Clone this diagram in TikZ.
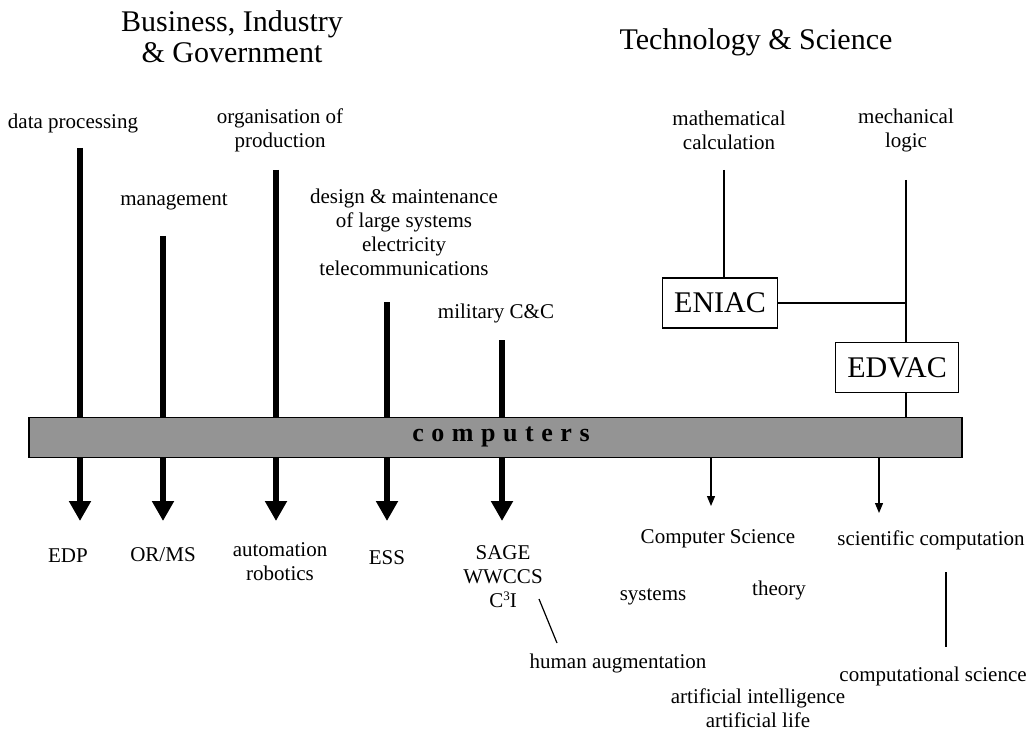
\documentclass[tikz,border=0pt]{standalone}
\usepackage{fontspec}
\setmainfont{Liberation Serif}
\usetikzlibrary{arrows.meta}

\begin{document}
\begin{tikzpicture}
		[
			x=0.5pt, y=-0.5pt,
			% Text styles.
			lbl/.style={inner sep=0pt, align=center, font=\fontsize{10.5}{12}\selectfont},
			headline/.style={inner sep=0pt, align=center, font=\fontsize{15}{15.5}\selectfont},
			machine/.style={draw, line width=0.6pt, inner xsep=6pt, minimum height=25pt, font=\fontsize{15}{15}\selectfont},
			% And the arrows.
			fat/.style={line width=3pt, -{Triangle[width=10.5pt,length=10pt]}},
			thin/.style={line width=0.6pt},
			thinarrow/.style={line width=0.6pt, -{Triangle[width=4pt,length=5pt]}}
		]
			\useasboundingbox (0,0) rectangle (1036,732);

			% Headings.
			\node[headline] (bus) at (232,37) {Business, Industry\\\& Government};
			\node[headline] (tech) at (756,42) {Technology \& Science};

			% Sources on the left.
			\node[lbl] (dp) at (73,123) {data processing};
			\node[lbl] (mgmt) at (174,202) {management};
			\node[lbl] (org) at (280,130) {organisation of\\production};
			\node[lbl] (design) at (404,232) {design \& maintenance\\of large systems\\electricity\\telecommunications};
			\node[lbl] (mil) at (496,313) {military C\&C};

			% Results on the left.
			\node[lbl] (edp) at (68,556) {EDP};
			\node[lbl] (orms) at (163,555) {OR/MS};
			\node[lbl] (auto) at (280,562) {automation\\robotics};
			\node[lbl] (ess) at (387,558) {ESS};
			\node[lbl] (sage) at (503,577) {SAGE\\WWCCS\\C\raisebox{3.6pt}{\fontsize{6.5}{7}\selectfont 3}I};
			\node[lbl] (human) at (618,663) {human augmentation};

			% Thick arrows through the bar.
			\foreach \x/\y/\name in {80/148/edp, 163/236/orms, 276/170/auto, 387/302/ess, 502/340/sage}
			{
				\coordinate (\name top) at (\x,\y);
				\coordinate (\name tip) at (\x,521);
				\draw[fat] (\name top) -- (\name tip);
			}

			% Technology side.
			\node[lbl] (math) at (729,130) {mathematical\\calculation};
			\node[lbl] (mech) at (906,130) {mechanical\\logic};
			\node[machine] (eniac) at (720,303) {ENIAC};
			\node[machine] (edvac) at (897,367.5) {EDVAC};
			\coordinate (mathfoot) at (724,170);
			\coordinate (mechfoot) at (906,180);

			% The bar.
			\node[draw, line width=0.6pt, fill=black!42, minimum width=466.5pt, minimum height=20pt, inner sep=0pt] (comp) at (495.5,437.5) {};
			\node[inner sep=0pt, font=\fontsize{13}{13}\bfseries\addfontfeature{LetterSpace=29}] (complbl) at (501,437) {computers};

			\draw[thin] (mathfoot) -- (mathfoot |- eniac.north);
			\draw[thin] (mechfoot) -- (mechfoot |- edvac.north);
			\draw[thin] (eniac.east) -- (mechfoot |- eniac.east);
			\draw[thin] (mechfoot |- edvac.south) -- (mechfoot |- comp.north);

			% Results on the right.
			\node[lbl] (cs) at (718,539) {Computer Science};
			\node[lbl] (sci) at (931,540) {scientific computation};
			\node[lbl] (sys) at (653,597) {systems};
			\node[lbl] (theory) at (779,590) {theory};
			\node[lbl] (ai) at (758,708) {artificial intelligence\\artificial life};
			\node[lbl] (compsci) at (933,676) {computational science};
			\coordinate (cstip) at (711,506);
			\coordinate (scitip) at (879,513);
			\draw[thinarrow] (cstip |- comp.south) -- (cstip);
			\draw[thinarrow] (scitip |- comp.south) -- (scitip);
			\coordinate (scia) at (946,572);
			\coordinate (scib) at (946,647);
			\draw[thin] (scia) -- (scib);
			\coordinate (huma) at (539,599);
			\coordinate (humb) at (557,643);
			\draw[thin] (huma) -- (humb);
		\end{tikzpicture}
\end{document}
